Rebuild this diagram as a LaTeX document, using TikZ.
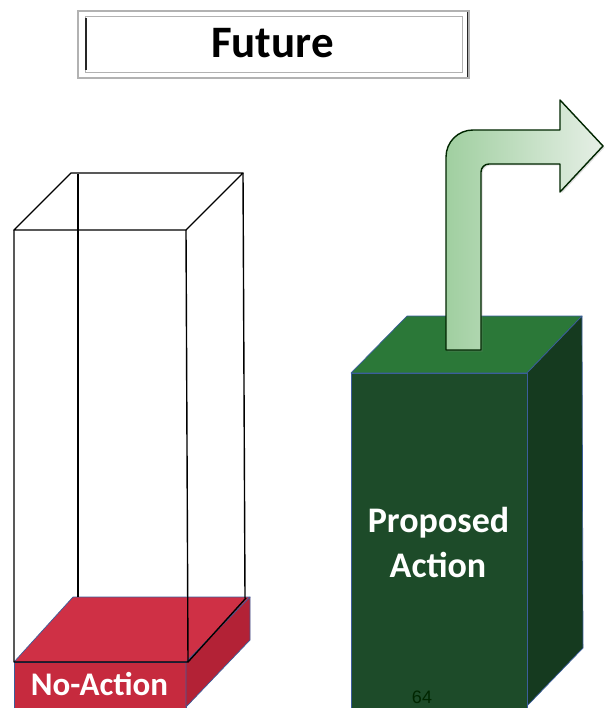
\documentclass[tikz,border=0pt]{standalone}
\usepackage{fontspec}
\setmainfont{Carlito}
\newfontfamily\numfont{Liberation Sans}
\usetikzlibrary{shadows}
\definecolor{redtop}{HTML}{CF3045}
\definecolor{redfront}{HTML}{C62A3E}
\definecolor{redside}{HTML}{B32236}
\definecolor{grtop}{HTML}{2B7838}
\definecolor{grfront}{HTML}{1D4B29}
\definecolor{grside}{HTML}{153A1F}
\definecolor{edgeblue}{HTML}{3B5E9C}
\definecolor{arrowdark}{HTML}{A0CFA0}
\definecolor{arrowlight}{HTML}{E6EFE6}
\tikzset{
  wire/.style={draw=black, line width=1.4pt, line join=round},
  facered/.style={draw=edgeblue, line width=0.7pt, line join=round},
  facegreen/.style={draw=edgeblue, line width=0.7pt, line join=round},
  labeltext/.style={text=white, font=\bfseries},
  frameline/.style={draw=black!30, line width=1.2pt},
}
\begin{document}
\begin{tikzpicture}[x=1pt,y=-1pt]
\useasboundingbox (0,0) rectangle (604,708);
\fill[white] (0,0) rectangle (604,708);

% ---- title box ----
\draw[frameline] (78,11) rectangle (469,78);
\draw[frameline, line width=0.8pt] (85,16) rectangle (462,72);
\draw[black!85, line width=1.6pt] (86,18) -- (86,70);
\draw[black!85, line width=1.6pt] (467.5,12) -- (467.5,77);
\node[font=\bfseries\fontsize{45}{50}\selectfont, anchor=base] (title) at (272.5,58) {Future};

% ---- red slab ----
\path[facered, fill=redtop] (14,662) -- (73,597) -- (250,597) -- (186,662) -- cycle;
\path[facered, fill=redfront] (14,662) rectangle (186,710);
\path[facered, fill=redside] (186,662) -- (250,597) -- (250,640) -- (186,707) -- cycle;

% ---- wireframe box ----
\coordinate (ftl) at (14,230);
\coordinate (ftr) at (186,230);
\coordinate (btl) at (71,173);
\coordinate (btr) at (243,173);
\draw[wire] (ftl) -- (btl) -- (btr) -- (ftr) -- cycle;
\draw[wire] (78,174) -- (78,597);
\draw[wire] (243,173) -- (245,598);
\draw[wire] (ftl) -- (14,662) -- (188,662) -- (ftr);
\draw[wire] (188,662) -- (246,598);
\node[labeltext, font=\bfseries\fontsize{33}{36}\selectfont, anchor=base] (noaction) at (99.5,695) {No-Action};

% ---- green box ----
\path[facegreen, fill=grtop] (351,373) -- (407,316) -- (582,316) -- (527,373) -- cycle;
\path[facegreen, fill=grside] (527,373) -- (582,316) -- (583,648) -- (527,706) -- cycle;
\path[facegreen, fill=grfront] (351,373) rectangle (527,712);

% ---- bent arrow ----
\path[draw=black!85!green, line width=1.4pt, line join=round,
      left color=arrowdark, right color=arrowlight,
      drop shadow={opacity=0.25, shadow xshift=1.5pt, shadow yshift=-1.5pt}]
  (446,350) -- (446,157) .. controls (446,142) and (458,130) .. (473,130)
  -- (560,130) -- (560,100) -- (603,146) -- (560,192) -- (560,164)
  -- (489,164) .. controls (484.6,164) and (481,167.6) .. (481,172)
  -- (481,350) -- cycle;

\node[labeltext, font=\bfseries\fontsize{36}{45}\selectfont, anchor=base] (prop) at (438.5,532) {Proposed};
\node[labeltext, font=\bfseries\fontsize{36}{45}\selectfont, anchor=base] (act) at (438,577) {Action};

\node[text=black!75!green!60!black, inner sep=0pt, font=\numfont\fontsize{18}{20}\selectfont, anchor=base] (pagenum) at (422,703) {64};
\end{tikzpicture}
\end{document}
